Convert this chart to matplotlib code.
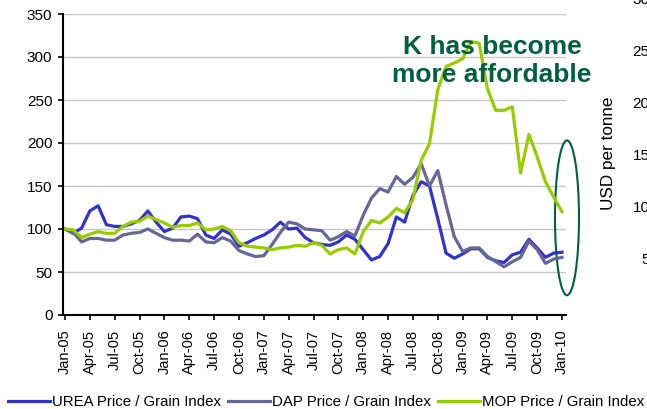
import matplotlib
matplotlib.use("Agg")
import matplotlib.pyplot as plt
from matplotlib.patches import Ellipse

plt.rcParams["font.family"] = ["Liberation Sans", "DejaVu Sans"]

# -----------------------------
# Data (monthly, Jan-05 .. Jan-10), index Jan-05 = 100
# -----------------------------
urea = [100, 95, 101, 121, 127, 105, 103, 103, 106, 110,
        121, 108, 97, 101, 114, 115, 112, 93, 89, 99,
        94, 80, 84, 89, 93, 99, 108, 100, 101, 90,
        84, 82, 81, 85, 93, 88, 76, 64, 68, 83,
        114, 108, 139, 155, 150, 112, 72, 66, 71, 77,
        77, 67, 63, 61, 70, 73, 88, 78, 67, 72, 73]

dap = [100, 96, 85, 89, 89, 87, 87, 93, 95, 96,
       100, 95, 90, 87, 87, 86, 94, 85, 84, 90,
       86, 75, 71, 68, 69, 82, 96, 108, 106, 100,
       99, 98, 87, 91, 97, 92, 116, 136, 147, 143,
       161, 152, 160, 176, 150, 168, 128, 91, 74, 78,
       78, 68, 62, 56, 62, 67, 86, 76, 60, 65, 67]

mop = [100, 99, 90, 94, 97, 95, 95, 103, 108, 109,
       115, 111, 107, 102, 104, 104, 107, 99, 100, 103,
       98, 84, 80, 79, 78, 76, 78, 79, 81, 80,
       84, 81, 71, 76, 78, 71, 97, 110, 107, 114,
       124, 119, 134, 180, 199, 262, 289, 293, 298, 318,
       316, 263, 238, 238, 242, 165, 210, 184, 155, 137, 120]

tick_labels = ["Jan-05", "Apr-05", "Jul-05", "Oct-05", "Jan-06", "Apr-06",
               "Jul-06", "Oct-06", "Jan-07", "Apr-07", "Jul-07", "Oct-07",
               "Jan-08", "Apr-08", "Jul-08", "Oct-08", "Jan-09", "Apr-09",
               "Jul-09", "Oct-09", "Jan-10"]

right_ticks = [50, 100, 150, 200, 250, 300]

x = list(range(len(urea)))

# -----------------------------
# Figure
# -----------------------------
W, H = 647, 409
fig = plt.figure(figsize=(W / 100, H / 100), dpi=100)
ax = fig.add_axes([63 / W, 94 / H, 503 / W, 301 / H])

ax.plot(x, urea, color="#3333cc", lw=2.3, label="UREA Price / Grain Index")
ax.plot(x, dap, color="#666699", lw=2.3, label="DAP Price / Grain Index")
ax.plot(x, mop, color="#99cc00", lw=2.3, label="MOP Price / Grain Index")

ax.set_ylim(0, 350)
ax.set_yticks(range(0, 351, 50))
ax.set_xlim(-0.24, 60.48)
ax.set_xticks(range(0, 61, 3))
ax.set_xticklabels(tick_labels, rotation=90, va="top", ha="center")

ax.grid(axis="y", color="#c8c8c8", lw=1.0)
ax.set_axisbelow(True)
for s in ["top", "right"]:
    ax.spines[s].set_visible(False)
for s in ["left", "bottom"]:
    ax.spines[s].set_linewidth(1.5)
ax.tick_params(axis="both", direction="out", length=3.6, width=1.2, pad=4)
ax.tick_params(axis="y", labelsize=11)
ax.tick_params(axis="x", labelsize=10.5, pad=7)

# callout
ax.add_patch(Ellipse((60.6, 113), 2.9, 180, fill=False, ec="#006040",
                     lw=1.5, clip_on=False))
fig.text(492 / W, 1 - 61 / H, "K has become\nmore affordable", ha="center",
         va="center", fontsize=19, fontweight="bold", color="#006040",
         linespacing=1.25)

# secondary scale (cut off at the right edge)
ax_r = fig.add_axes([661 / W, (H - 310) / H, 0.001, 312 / H])
ax_r.set_ylim(0, 300)
ax_r.set_yticks(right_ticks)
ax_r.tick_params(axis="y", length=0, labelsize=11, pad=2)
ax_r.set_xticks([])
for s in ax_r.spines.values():
    s.set_visible(False)
ax_r.patch.set_visible(False)
fig.text(608 / W, 1 - 153 / H, "USD per tonne", rotation=90, ha="center",
         va="center", fontsize=12.3)

# legend
fig.legend(*ax.get_legend_handles_labels(), loc="center left",
           bbox_to_anchor=(8 / W, 1 - 402 / H), ncol=3, frameon=False,
           fontsize=10.8, handlelength=2.8, handletextpad=0.15,
           columnspacing=0.45, borderpad=0, borderaxespad=0)

fig.savefig("out.png", dpi=100)
